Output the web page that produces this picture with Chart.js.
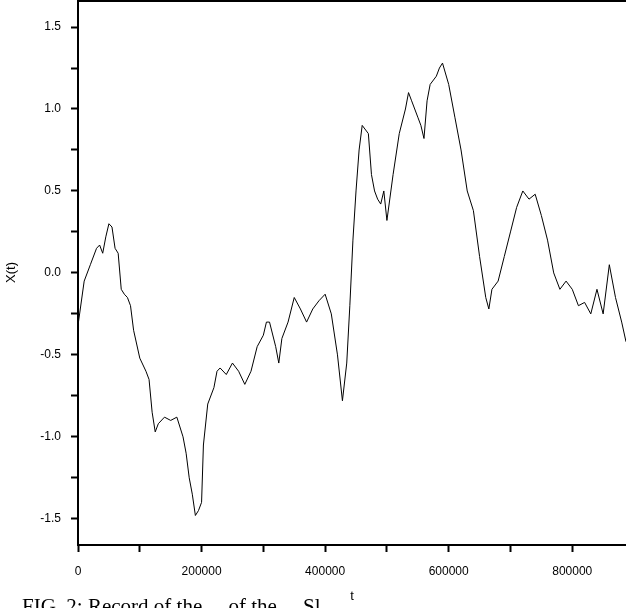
<!DOCTYPE html>
<html>
<head>
<meta charset="utf-8">
<script src="https://cdn.jsdelivr.net/npm/chart.js@4"></script>
<style>
  html, body { margin: 0; padding: 0; background: #fff; overflow: hidden; }
  #wrap { position: relative; width: 626px; height: 608px; overflow: hidden; }
  #walk { position: absolute; left: 0; top: -9px; }
  #caption { position: absolute; left: 22px; top: 594px; font: 21px "Liberation Serif", serif; color: #000; white-space: nowrap; }
</style>
</head>
<body>
<div id="wrap">
  <canvas id="walk" width="626" height="617"></canvas>
  <div id="caption">FIG. 2: Record of the ... of the ... Sl...</div>
</div>
<script>
const tVals = [
  0, 10000, 20000, 30000, 35000, 40000, 45000, 50000, 55000, 60000, 65000, 70000, 75000, 80000, 85000, 90000,
  100000, 110000, 115000, 120000, 125000, 130000, 140000, 150000, 160000, 170000, 175000, 180000, 185000, 190000, 195000,
  200000, 203000, 210000, 220000, 225000, 230000, 240000, 250000, 260000, 270000, 280000, 290000, 300000, 305000,
  310000, 320000, 325000, 330000, 340000, 350000, 360000, 370000, 380000, 390000, 400000, 410000, 420000, 428000,
  435000, 440000, 445000, 450000, 455000, 460000, 470000, 475000, 480000, 485000, 490000, 495000, 500000, 510000,
  520000, 530000, 535000, 540000, 550000, 555000, 560000, 565000, 570000, 580000, 585000, 590000, 600000, 610000,
  620000, 630000, 640000, 650000, 660000, 665000, 670000, 680000, 690000, 700000, 710000, 720000, 730000, 740000,
  750000, 760000, 770000, 780000, 790000, 800000, 810000, 820000, 830000, 840000, 850000, 860000, 870000, 880000, 887000
]
const xVals = [
  -0.32, -0.05, 0.05, 0.15, 0.17, 0.12, 0.22, 0.30, 0.28, 0.15, 0.12, -0.10, -0.13, -0.15, -0.20, -0.35,
  -0.52, -0.60, -0.65, -0.85, -0.97, -0.92, -0.88, -0.90, -0.88, -1.00, -1.10, -1.25, -1.35, -1.48, -1.45,
  -1.40, -1.05, -0.80, -0.70, -0.60, -0.58, -0.62, -0.55, -0.60, -0.68, -0.60, -0.45, -0.38, -0.30,
  -0.30, -0.45, -0.55, -0.40, -0.30, -0.15, -0.22, -0.30, -0.22, -0.17, -0.13, -0.25, -0.50, -0.78,
  -0.55, -0.20, 0.20, 0.50, 0.75, 0.90, 0.85, 0.60, 0.50, 0.45, 0.42, 0.50, 0.32, 0.60,
  0.85, 1.00, 1.10, 1.05, 0.95, 0.90, 0.82, 1.05, 1.15, 1.20, 1.25, 1.28, 1.15, 0.95,
  0.75, 0.50, 0.38, 0.10, -0.15, -0.22, -0.10, -0.05, 0.10, 0.25, 0.40, 0.50, 0.45, 0.48,
  0.35, 0.20, 0.00, -0.10, -0.05, -0.10, -0.20, -0.18, -0.25, -0.10, -0.25, 0.05, -0.15, -0.30, -0.42
]
const xTicks = [0, 200000, 400000, 600000, 800000]
const yTickLabels = [-1.5, -1.0, -0.5, 0.0, 0.5, 1.0, 1.5]

const font = { family: 'Liberation Sans, Arial, sans-serif', size: 12 }

// top frame line (the original plot is boxed at the top)
const frame = {
  id: 'frame',
  afterDraw(chart) {
    const { ctx, chartArea } = chart
    ctx.save()
    ctx.strokeStyle = '#000'
    ctx.lineWidth = 2
    ctx.beginPath()
    ctx.moveTo(chartArea.left, chartArea.top + 1)
    ctx.lineTo(chartArea.right, chartArea.top + 1)
    ctx.stroke()
    ctx.restore()
  },
}

new Chart(document.getElementById('walk'), {
  type: 'line',
  data: {
    datasets: [{
      data: tVals.map((t, i) => ({ x: t, y: xVals[i] })),
      borderColor: '#000',
      borderWidth: 1,
      pointRadius: 0,
      tension: 0,
    }],
  },
  options: {
    responsive: false,
    animation: false,
    layout: { padding: 0 },
    plugins: { legend: { display: false }, tooltip: { enabled: false } },
    scales: {
      x: {
        type: 'linear',
        min: 0,
        max: 887000,
        afterFit(s) { s.height = 63 },
        afterBuildTicks(s) {
          const t = []
          for (let v = 0; v <= 800000; v += 100000) t.push({ value: v })
          s.ticks = t
        },
        ticks: {
          color: '#000',
          font,
          padding: 12,
          maxRotation: 0,
          autoSkip: false,
          callback: v => (xTicks.includes(v) ? String(v) : ''),
        },
        grid: { drawOnChartArea: false, color: '#000', tickLength: 7, tickWidth: 2 },
        border: { color: '#000', width: 2 },
        title: { display: true, text: 't', color: '#000', font: { ...font, size: 13 }, padding: { top: 6 } },
      },
      y: {
        min: -1.66,
        max: 1.665,
        afterFit(s) { s.width = 78; s.paddingTop = 9 },
        afterBuildTicks(s) {
          const t = []
          for (let v = -1.5; v <= 1.5001; v += 0.25) t.push({ value: Math.round(v * 100) / 100 })
          s.ticks = t
        },
        ticks: {
          color: '#000',
          font,
          padding: 10,
          autoSkip: false,
          callback: v => (yTickLabels.some(l => Math.abs(l - v) < 1e-6) ? v.toFixed(1) : ''),
        },
        grid: { drawOnChartArea: false, color: '#000', tickLength: 7, tickWidth: 2 },
        border: { color: '#000', width: 2 },
        title: { display: true, text: 'X(t)', color: '#000', font: { ...font, size: 13 } },
      },
    },
  },
  plugins: [frame],
})
</script>
</body>
</html>
